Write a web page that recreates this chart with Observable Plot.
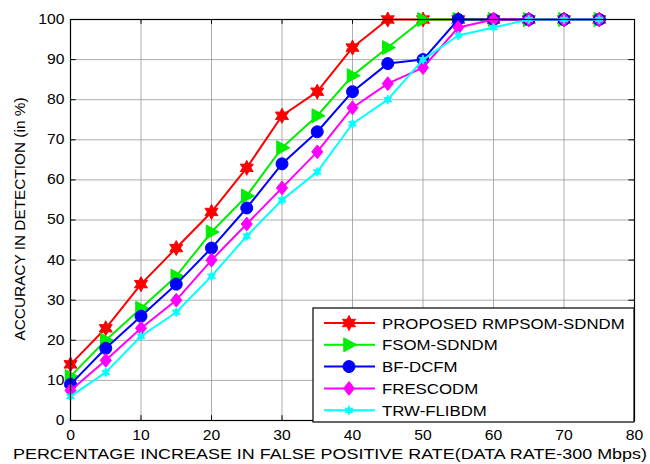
<!DOCTYPE html>
<html><head><meta charset="utf-8">
<script src="https://cdn.jsdelivr.net/npm/d3@7"></script>
<script src="https://cdn.jsdelivr.net/npm/@observablehq/plot@0.6"></script>
<style>
html,body{margin:0;padding:0;background:#fff;}
#chart{width:650px;height:464px;position:relative;}
svg{font-family:"Liberation Sans",Arial,sans-serif;}
</style></head>
<body><div id="chart"></div>
<script>
const xValues = [0,5,10,15,20,25,30,35,40,45,50,55,60,65,70,75];
const seriesNames = ["PROPOSED RMPSOM-SDNDM","FSOM-SDNDM","BF-DCFM","FRESCODM","TRW-FLIBDM"];
const proposed = [14,23,34,43,52,63,76,82,93,100,100,100,100,100,100,100];
const fsom     = [11,20,28,36,47,56,68,76,86,93,100,100,100,100,100,100];
const bfdcfm   = [9,18,26,34,43,53,64,72,82,89,90,100,100,100,100,100];
const frescodm = [7.5,15,23,30,40,49,58,67,78,84,88,98,100,100,100,100];
const trw      = [6,12,21,27,36,46,55,62,74,80,90,96,98,100,100,100];
const xTicks = [0,10,20,30,40,50,60,70,80];
const yTicks = [0,10,20,30,40,50,60,70,80,90,100];
const colors = ["#ff0000","#00ee00","#0000ff","#ff00ff","#00ffff"];

function starSymbol(points, ratio){
  return {draw(ctx, size){
    const R = Math.sqrt(size/Math.PI), r = R*ratio;
    for(let i=0;i<points*2;i++){
      const a = -Math.PI/2 + i*Math.PI/points;
      const rr = i%2===0 ? R : r;
      const px = rr*Math.cos(a), py = rr*Math.sin(a);
      if(i===0) ctx.moveTo(px,py); else ctx.lineTo(px,py);
    }
    ctx.closePath();
  }};
}
const triRight = {draw(ctx,size){
  const R = Math.sqrt(size/Math.PI);
  ctx.moveTo(R*1.1,0); ctx.lineTo(-R*0.75,-R*1.0); ctx.lineTo(-R*0.75,R*1.0); ctx.closePath();
}};
const diamond = {draw(ctx,size){
  const R = Math.sqrt(size/Math.PI)*1.15;
  ctx.moveTo(0,-R); ctx.lineTo(R*0.8,0); ctx.lineTo(0,R); ctx.lineTo(-R*0.8,0); ctx.closePath();
}};
const symbols = [starSymbol(6,0.55), triRight, d3.symbolCircle, diamond, starSymbol(6,0.5)];
const radii = [7.5,7,6,6,4.5];

const allSeries = [proposed,fsom,bfdcfm,frescodm,trw];
const data = [];
allSeries.forEach((vals,si)=>vals.forEach((v,i)=>data.push({s:si,x:xValues[i],y:v})));

const marks = [
  Plot.gridX(xTicks,{stroke:"#999",strokeOpacity:0.8,strokeWidth:1}),
  Plot.gridY(yTicks,{stroke:"#999",strokeOpacity:0.8,strokeWidth:1}),
  Plot.ruleY(yTicks,{x1:0,x2:0.8,stroke:"black"}),
  Plot.ruleY(yTicks,{x1:79.2,x2:80,stroke:"black"}),
  Plot.ruleX(xTicks,{y1:0,y2:1.2,stroke:"black"}),
  Plot.ruleX(xTicks,{y1:98.8,y2:100,stroke:"black"}),
  Plot.axisX(xTicks,{tickSize:0,tickPadding:10,fontSize:14,fill:"black",label:null}),
  Plot.axisY(yTicks,{tickSize:0,tickPadding:6,fontSize:14,fill:"black",label:null}),
];
allSeries.forEach((vals,si)=>{
  const d = data.filter(p=>p.s===si);
  marks.push(Plot.line(d,{x:"x",y:"y",stroke:colors[si],strokeWidth:2}));
  marks.push(Plot.dot(d,{x:"x",y:"y",fill:colors[si],stroke:colors[si],strokeWidth:1,r:radii[si],symbol:()=>symbols[si]}));
});
marks.push(Plot.frame({stroke:"black",strokeWidth:1.2}));

const chart = Plot.plot({
  width:650,height:464,
  marginLeft:70,marginRight:16,marginTop:19,marginBottom:44,
  x:{domain:[0,80],axis:null},
  y:{domain:[0,100],axis:null},
  style:{fontFamily:"Liberation Sans, Arial, sans-serif",background:"white",overflow:"visible"},
  marks
});
document.getElementById("chart").appendChild(chart);

const svg = d3.select(chart);
// stretch tick labels horizontally like the reference
svg.selectAll("text").each(function(){
  const len = this.getComputedTextLength();
  if(len>0){ this.setAttribute("textLength", len*1.12); this.setAttribute("lengthAdjust","spacingAndGlyphs"); }
});
// axis titles
svg.append("text").attr("x",330).attr("y",459).attr("text-anchor","middle")
  .attr("font-size",15).attr("fill","black")
  .attr("textLength",634).attr("lengthAdjust","spacingAndGlyphs")
  .text("PERCENTAGE INCREASE IN FALSE POSITIVE RATE(DATA RATE-300 Mbps)");
svg.append("text").attr("transform","translate(25,219) rotate(-90)").attr("text-anchor","middle")
  .attr("font-size",14.5).attr("fill","black")
  .attr("textLength",243).attr("lengthAdjust","spacingAndGlyphs")
  .text("ACCURACY IN DETECTION (in %)");
// legend
const lg = svg.append("g");
lg.append("rect").attr("x",313).attr("y",308).attr("width",321).attr("height",114)
  .attr("fill","white").attr("stroke","black").attr("stroke-width",1.2);
seriesNames.forEach((name,i)=>{
  const y = 323 + i*21.8;
  lg.append("line").attr("x1",324).attr("x2",375).attr("y1",y).attr("y2",y)
    .attr("stroke",colors[i]).attr("stroke-width",2);
  const r = radii[i];
  const p = d3.path(); symbols[i].draw(p, r*r*Math.PI);
  lg.append("path").attr("d",p.toString()).attr("transform",`translate(349,${y})`)
    .attr("fill",colors[i]).attr("stroke",colors[i]);
  const t = lg.append("text").attr("x",382).attr("y",y+5.5).attr("text-anchor","start")
    .attr("font-size",15).attr("fill","black").text(name);
  const len = t.node().getComputedTextLength();
  t.attr("textLength",len*1.12).attr("lengthAdjust","spacingAndGlyphs");
});
</script></body></html>
